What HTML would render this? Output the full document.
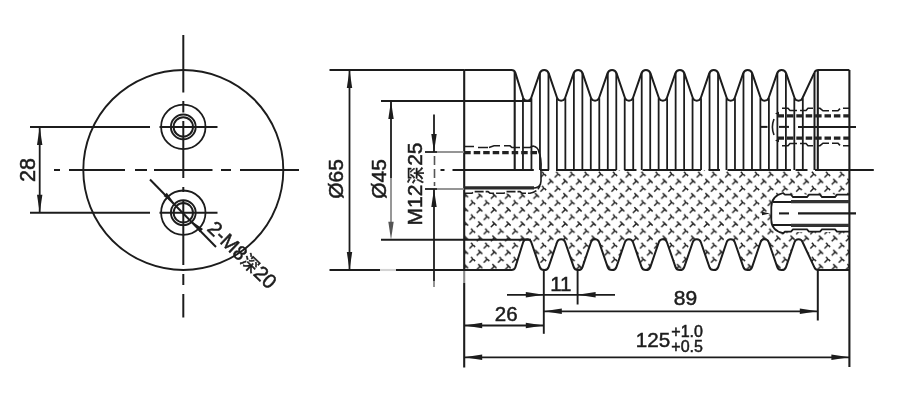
<!DOCTYPE html>
<html lang="zh"><head><meta charset="utf-8"><title>drawing</title>
<style>
html,body{margin:0;padding:0;background:#fff;}
body{width:900px;height:402px;overflow:hidden;}
svg{display:block;will-change:transform;filter:grayscale(1);}
svg text{font-family:"Liberation Sans","Noto Sans CJK SC",sans-serif;fill:#1c1c1c;stroke:#1c1c1c;stroke-width:0.5px;}
</style></head><body>
<svg width="900" height="402" viewBox="0 0 900 402" stroke="#1c1c1c" fill="none" stroke-linecap="butt">
<rect x="0" y="0" width="900" height="402" fill="#ffffff" stroke="none"/>
<circle cx="183.3" cy="170" r="100" fill="none" stroke-width="1.9"/>
<circle cx="183.3" cy="126.9" r="22.2" fill="none" stroke-width="1.8"/>
<circle cx="183.3" cy="126.9" r="12.4" fill="none" stroke-width="1.9"/>
<circle cx="183.3" cy="126.9" r="9.7" fill="none" stroke-width="1.9"/>
<line x1="30.00" y1="126.90" x2="150.00" y2="126.90" stroke-width="2.0" />
<line x1="159.50" y1="126.90" x2="217.50" y2="126.90" stroke-width="2.0" />
<circle cx="183.3" cy="212.7" r="22.2" fill="none" stroke-width="1.8"/>
<circle cx="183.3" cy="212.7" r="12.4" fill="none" stroke-width="1.9"/>
<circle cx="183.3" cy="212.7" r="9.7" fill="none" stroke-width="1.9"/>
<line x1="30.00" y1="212.70" x2="150.00" y2="212.70" stroke-width="2.0" />
<line x1="159.50" y1="212.70" x2="217.50" y2="212.70" stroke-width="2.0" />
<line x1="54.00" y1="170.00" x2="60.00" y2="170.00" stroke-width="2.0" />
<line x1="69.00" y1="170.00" x2="125.00" y2="170.00" stroke-width="2.0" />
<line x1="135.00" y1="170.00" x2="147.00" y2="170.00" stroke-width="2.0" />
<line x1="154.00" y1="170.00" x2="212.50" y2="170.00" stroke-width="2.0" />
<line x1="221.00" y1="170.00" x2="231.00" y2="170.00" stroke-width="2.0" />
<line x1="240.00" y1="170.00" x2="299.00" y2="170.00" stroke-width="2.0" />
<line x1="183.30" y1="35.00" x2="183.30" y2="92.50" stroke-width="2.0" />
<line x1="183.30" y1="101.00" x2="183.30" y2="112.50" stroke-width="2.0" />
<line x1="183.30" y1="121.00" x2="183.30" y2="178.00" stroke-width="2.0" />
<line x1="183.30" y1="187.00" x2="183.30" y2="192.00" stroke-width="2.0" />
<line x1="183.30" y1="201.00" x2="183.30" y2="265.00" stroke-width="2.0" />
<line x1="183.30" y1="274.00" x2="183.30" y2="285.00" stroke-width="2.0" />
<line x1="183.30" y1="294.00" x2="183.30" y2="317.50" stroke-width="2.0" />
<line x1="39.70" y1="126.90" x2="39.70" y2="212.70" stroke-width="1.8" />
<polygon points="39.70,126.90 42.40,144.90 37.00,144.90" fill="#1c1c1c" stroke="none"/>
<polygon points="39.70,212.70 37.00,194.70 42.40,194.70" fill="#1c1c1c" stroke="none"/>
<text transform="translate(34.5,170) rotate(-90)" text-anchor="middle" font-size="21.6">28</text>
<line x1="150.00" y1="179.50" x2="216.00" y2="247.00" stroke-width="2.0" />
<polygon points="174.40,203.60 163.58,196.03 166.83,192.78" fill="#1c1c1c" stroke="none"/>
<polygon points="192.20,221.40 203.02,228.97 199.77,232.22" fill="#1c1c1c" stroke="none"/>
<text transform="translate(206.2,229.8) rotate(44)" font-size="20.2">2-M8<tspan font-size="17.5" dx="0.4">深</tspan><tspan dx="0.4">20</tspan></text>
<defs><pattern id="h" width="14.2" height="14.2" patternUnits="userSpaceOnUse" patternTransform="translate(4.5,3.5)">
<path d="M0,0 L14.2,14.2" stroke="#1c1c1c" stroke-width="1.45" stroke-dasharray="5.8 4.24" stroke-dashoffset="2.9" fill="none"/>
<path d="M14.2,0 L0,14.2" stroke="#1c1c1c" stroke-width="1.45" stroke-dasharray="5.4 4.64" stroke-dashoffset="0.4" fill="none"/>
</pattern></defs>
<path d="M464.20,270.00 L511.50,270.00 Q514.20,270.00 515.30,267.40 L523.13,242.22 A4.3,4.3 0 0 1 531.27,242.22 L539.75,266.81 A4.7,4.7 0 0 0 548.65,266.81 L557.05,242.22 A4.3,4.3 0 0 1 565.19,242.22 L573.67,266.81 A4.7,4.7 0 0 0 582.57,266.81 L590.97,242.22 A4.3,4.3 0 0 1 599.11,242.22 L607.59,266.81 A4.7,4.7 0 0 0 616.49,266.81 L624.89,242.22 A4.3,4.3 0 0 1 633.03,242.22 L641.51,266.81 A4.7,4.7 0 0 0 650.41,266.81 L658.81,242.22 A4.3,4.3 0 0 1 666.95,242.22 L675.43,266.81 A4.7,4.7 0 0 0 684.33,266.81 L692.73,242.22 A4.3,4.3 0 0 1 700.87,242.22 L709.35,266.81 A4.7,4.7 0 0 0 718.25,266.81 L726.65,242.22 A4.3,4.3 0 0 1 734.79,242.22 L743.27,266.81 A4.7,4.7 0 0 0 752.17,266.81 L760.57,242.22 A4.3,4.3 0 0 1 768.71,242.22 L777.19,266.81 A4.7,4.7 0 0 0 786.09,266.81 L794.49,242.22 A4.3,4.3 0 0 1 802.63,242.22 L814.40,267.40 Q815.50,270.00 818.30,270.00 L849.40,270.00 L849.40,170 L464.20,170 Z" fill="url(#h)" stroke="none"/>
<path d="M464.2,170 H541 V183 Q541,193.5 530,193.5 H464.2 Z" fill="#fff" stroke="none"/>
<path d="M849.4,194.5 H781 Q771,194.5 771,204 V223 Q771,232 781,232 H849.4 Z" fill="#fff" stroke="none"/>
<path d="M464.20,70.00 L511.50,70.00 Q514.20,70.00 515.30,72.60 L523.13,97.78 A4.3,4.3 0 0 0 531.27,97.78 L539.75,73.19 A4.7,4.7 0 0 1 548.65,73.19 L557.05,97.78 A4.3,4.3 0 0 0 565.19,97.78 L573.67,73.19 A4.7,4.7 0 0 1 582.57,73.19 L590.97,97.78 A4.3,4.3 0 0 0 599.11,97.78 L607.59,73.19 A4.7,4.7 0 0 1 616.49,73.19 L624.89,97.78 A4.3,4.3 0 0 0 633.03,97.78 L641.51,73.19 A4.7,4.7 0 0 1 650.41,73.19 L658.81,97.78 A4.3,4.3 0 0 0 666.95,97.78 L675.43,73.19 A4.7,4.7 0 0 1 684.33,73.19 L692.73,97.78 A4.3,4.3 0 0 0 700.87,97.78 L709.35,73.19 A4.7,4.7 0 0 1 718.25,73.19 L726.65,97.78 A4.3,4.3 0 0 0 734.79,97.78 L743.27,73.19 A4.7,4.7 0 0 1 752.17,73.19 L760.57,97.78 A4.3,4.3 0 0 0 768.71,97.78 L777.19,73.19 A4.7,4.7 0 0 1 786.09,73.19 L794.49,97.78 A4.3,4.3 0 0 0 802.63,97.78 L814.40,72.60 Q815.50,70.00 818.30,70.00 L849.40,70.00" fill="none" stroke-width="2" stroke-linejoin="round"/>
<path d="M464.20,270.00 L511.50,270.00 Q514.20,270.00 515.30,267.40 L523.13,242.22 A4.3,4.3 0 0 1 531.27,242.22 L539.75,266.81 A4.7,4.7 0 0 0 548.65,266.81 L557.05,242.22 A4.3,4.3 0 0 1 565.19,242.22 L573.67,266.81 A4.7,4.7 0 0 0 582.57,266.81 L590.97,242.22 A4.3,4.3 0 0 1 599.11,242.22 L607.59,266.81 A4.7,4.7 0 0 0 616.49,266.81 L624.89,242.22 A4.3,4.3 0 0 1 633.03,242.22 L641.51,266.81 A4.7,4.7 0 0 0 650.41,266.81 L658.81,242.22 A4.3,4.3 0 0 1 666.95,242.22 L675.43,266.81 A4.7,4.7 0 0 0 684.33,266.81 L692.73,242.22 A4.3,4.3 0 0 1 700.87,242.22 L709.35,266.81 A4.7,4.7 0 0 0 718.25,266.81 L726.65,242.22 A4.3,4.3 0 0 1 734.79,242.22 L743.27,266.81 A4.7,4.7 0 0 0 752.17,266.81 L760.57,242.22 A4.3,4.3 0 0 1 768.71,242.22 L777.19,266.81 A4.7,4.7 0 0 0 786.09,266.81 L794.49,242.22 A4.3,4.3 0 0 1 802.63,242.22 L814.40,267.40 Q815.50,270.00 818.30,270.00 L849.40,270.00" fill="none" stroke-width="2" stroke-linejoin="round"/>
<line x1="464.20" y1="70.00" x2="464.20" y2="271.00" stroke-width="2.1" />
<line x1="464.20" y1="271.00" x2="464.20" y2="283.00" stroke-width="2.1" stroke="#8a8a8a"/>
<line x1="464.20" y1="283.00" x2="464.20" y2="367.50" stroke-width="2.1" />
<line x1="849.40" y1="70.00" x2="849.40" y2="367.00" stroke-width="2.1" />
<line x1="514.70" y1="72.00" x2="514.70" y2="170.00" stroke-width="2.1" />
<line x1="817.80" y1="70.00" x2="817.80" y2="170.00" stroke-width="2.1" />
<line x1="814.50" y1="73.00" x2="814.50" y2="170.00" stroke-width="2.0" />
<line x1="539.95" y1="73.00" x2="539.95" y2="170.00" stroke-width="1.8" />
<line x1="548.45" y1="73.00" x2="548.45" y2="170.00" stroke-width="1.8" />
<line x1="573.87" y1="73.00" x2="573.87" y2="170.00" stroke-width="1.8" />
<line x1="582.37" y1="73.00" x2="582.37" y2="170.00" stroke-width="1.8" />
<line x1="607.79" y1="73.00" x2="607.79" y2="170.00" stroke-width="1.8" />
<line x1="616.29" y1="73.00" x2="616.29" y2="170.00" stroke-width="1.8" />
<line x1="641.71" y1="73.00" x2="641.71" y2="170.00" stroke-width="1.8" />
<line x1="650.21" y1="73.00" x2="650.21" y2="170.00" stroke-width="1.8" />
<line x1="675.63" y1="73.00" x2="675.63" y2="170.00" stroke-width="1.8" />
<line x1="684.13" y1="73.00" x2="684.13" y2="170.00" stroke-width="1.8" />
<line x1="709.55" y1="73.00" x2="709.55" y2="170.00" stroke-width="1.8" />
<line x1="718.05" y1="73.00" x2="718.05" y2="170.00" stroke-width="1.8" />
<line x1="743.47" y1="73.00" x2="743.47" y2="170.00" stroke-width="1.8" />
<line x1="751.97" y1="73.00" x2="751.97" y2="170.00" stroke-width="1.8" />
<line x1="777.39" y1="73.00" x2="777.39" y2="170.00" stroke-width="1.8" />
<line x1="785.89" y1="73.00" x2="785.89" y2="170.00" stroke-width="1.8" />
<line x1="522.95" y1="98.20" x2="522.95" y2="170.00" stroke-width="1.8" />
<line x1="531.45" y1="98.20" x2="531.45" y2="170.00" stroke-width="1.8" />
<line x1="556.87" y1="98.20" x2="556.87" y2="170.00" stroke-width="1.8" />
<line x1="565.37" y1="98.20" x2="565.37" y2="170.00" stroke-width="1.8" />
<line x1="590.79" y1="98.20" x2="590.79" y2="170.00" stroke-width="1.8" />
<line x1="599.29" y1="98.20" x2="599.29" y2="170.00" stroke-width="1.8" />
<line x1="624.71" y1="98.20" x2="624.71" y2="170.00" stroke-width="1.8" />
<line x1="633.21" y1="98.20" x2="633.21" y2="170.00" stroke-width="1.8" />
<line x1="658.63" y1="98.20" x2="658.63" y2="170.00" stroke-width="1.8" />
<line x1="667.13" y1="98.20" x2="667.13" y2="170.00" stroke-width="1.8" />
<line x1="692.55" y1="98.20" x2="692.55" y2="170.00" stroke-width="1.8" />
<line x1="701.05" y1="98.20" x2="701.05" y2="170.00" stroke-width="1.8" />
<line x1="726.47" y1="98.20" x2="726.47" y2="170.00" stroke-width="1.8" />
<line x1="734.97" y1="98.20" x2="734.97" y2="170.00" stroke-width="1.8" />
<line x1="760.39" y1="98.20" x2="760.39" y2="170.00" stroke-width="1.8" />
<line x1="768.89" y1="98.20" x2="768.89" y2="170.00" stroke-width="1.8" />
<line x1="794.31" y1="98.20" x2="794.31" y2="170.00" stroke-width="1.8" />
<line x1="802.81" y1="98.20" x2="802.81" y2="170.00" stroke-width="1.8" />
<line x1="440.50" y1="170.00" x2="444.50" y2="170.00" stroke-width="2.0" />
<line x1="452.50" y1="170.00" x2="533.80" y2="170.00" stroke-width="2.0" />
<line x1="540.00" y1="170.00" x2="549.00" y2="170.00" stroke-width="2.0" />
<line x1="556.00" y1="170.00" x2="616.30" y2="170.00" stroke-width="2.0" />
<line x1="624.50" y1="170.00" x2="636.50" y2="170.00" stroke-width="2.0" />
<line x1="642.50" y1="170.00" x2="701.00" y2="170.00" stroke-width="2.0" />
<line x1="708.50" y1="170.00" x2="720.00" y2="170.00" stroke-width="2.0" />
<line x1="727.50" y1="170.00" x2="791.00" y2="170.00" stroke-width="2.0" />
<line x1="795.50" y1="170.00" x2="807.50" y2="170.00" stroke-width="2.0" />
<line x1="815.00" y1="170.00" x2="873.80" y2="170.00" stroke-width="2.0" />
<line x1="329.50" y1="70.00" x2="464.20" y2="70.00" stroke-width="2.1" />
<line x1="329.50" y1="270.00" x2="380.00" y2="270.00" stroke-width="2.1" />
<line x1="380.00" y1="270.00" x2="396.00" y2="270.00" stroke-width="2.1" stroke="#d4d4d4"/>
<line x1="396.00" y1="270.00" x2="464.20" y2="270.00" stroke-width="2.1" />
<line x1="381.00" y1="101.00" x2="531.00" y2="101.00" stroke-width="2.1" />
<line x1="381.00" y1="239.70" x2="531.00" y2="239.70" stroke-width="2.1" />
<line x1="349.50" y1="70.00" x2="349.50" y2="270.00" stroke-width="1.8" />
<polygon points="349.50,70.00 352.20,88.00 346.80,88.00" fill="#1c1c1c" stroke="none"/>
<polygon points="349.50,270.00 346.80,252.00 352.20,252.00" fill="#1c1c1c" stroke="none"/>
<line x1="391.00" y1="101.00" x2="391.00" y2="178.00" stroke-width="1.8" />
<line x1="391.00" y1="178.00" x2="391.00" y2="230.00" stroke-width="1.8" stroke="#8c8c8c"/>
<polygon points="391.00,101.00 393.70,119.00 388.30,119.00" fill="#1c1c1c" stroke="none"/>
<polygon points="391.00,239.70 388.30,221.70 393.70,221.70" fill="#555" stroke="none"/>
<text transform="translate(343.4,179) rotate(-90)" text-anchor="middle" font-size="21">Ø65</text>
<text transform="translate(386.4,179) rotate(-90)" text-anchor="middle" font-size="21">Ø45</text>
<line x1="434.00" y1="114.50" x2="434.00" y2="152.00" stroke-width="1.8" />
<line x1="434.00" y1="189.00" x2="434.00" y2="281.00" stroke-width="1.8" />
<line x1="434.00" y1="281.00" x2="434.00" y2="287.00" stroke-width="1.8" stroke="#8a8a8a"/>
<line x1="434.50" y1="156.00" x2="434.50" y2="186.00" stroke-width="1.6" stroke="#555" stroke-dasharray="9 4"/>
<polygon points="434.00,152.00 431.30,134.00 436.70,134.00" fill="#1c1c1c" stroke="none"/>
<polygon points="434.00,189.00 436.70,207.00 431.30,207.00" fill="#1c1c1c" stroke="none"/>
<line x1="425.00" y1="152.00" x2="437.00" y2="152.00" stroke-width="1.8" />
<line x1="437.00" y1="152.00" x2="464.20" y2="152.00" stroke-width="1.8" stroke="#8a8a8a"/>
<line x1="425.00" y1="189.00" x2="437.00" y2="189.00" stroke-width="1.8" />
<line x1="437.00" y1="189.00" x2="464.20" y2="189.00" stroke-width="1.8" stroke="#8a8a8a"/>
<text transform="translate(421.8,184) rotate(-90)" text-anchor="middle" font-size="21">M12<tspan font-size="17.5" dx="0.7">深</tspan><tspan dx="0.7">25</tspan></text>
<line x1="464.20" y1="152.70" x2="537.00" y2="152.70" stroke-width="3.2" stroke-dasharray="6.5 3" stroke="#222"/>
<path d="M464.2,146.5 H474 M478,147.5 H488 M489,147.5 L494,145.8 H500 M504,145.8 H510 L512,147.5 H520 M523,147.5 H530 L533,146 Q538,147 539,152" fill="none" stroke-width="1.6"/>
<path d="M538.5,151 Q541.8,158 541,170" fill="none" stroke-width="1.6"/>
<path d="M541,170 V181 Q541,188.3 532,188.3 H464.2" fill="none" stroke-width="1.6"/>
<line x1="464.20" y1="187.80" x2="534.00" y2="187.80" stroke-width="3.2" stroke="#2a2a2a"/>
<path d="M464.2,193.2 H472 L474,191.6 H488 L490,193.2 H504 L506,191.6 H520 L522,193.2 H530 Q537,192 540,186" fill="none" stroke-width="1.6" stroke-dasharray="9 2"/>
<line x1="777.50" y1="115.90" x2="849.40" y2="115.90" stroke-width="3.2" stroke-dasharray="6.5 2.9" stroke="#222"/>
<line x1="777.50" y1="138.20" x2="849.40" y2="138.20" stroke-width="3.2" stroke-dasharray="6.5 2.9" stroke="#222"/>
<path d="M782,108.3 H788 L790,110.5 H797 M800,110.5 H806 L808,108.3 H813 M817,108.3 H820 L823,110.8 H829 M832,110.8 H838 L840,108.6 M843,108.3 H849.4" fill="none" stroke-width="1.6"/>
<path d="M782,145.7 H788 L790,143.5 H797 M800,143.5 H806 L808,145.7 H813 M817,145.7 H820 L823,143.2 H829 M832,143.2 H838 L840,145.4 M843,145.7 H849.4" fill="none" stroke-width="1.6"/>
<path d="M774,119 Q770.8,127 774,135" fill="none" stroke-width="1.6"/>
<polygon points="775.00,113.50 779.00,111.70 779.00,115.30" fill="#1c1c1c" stroke="none"/>
<polygon points="775.00,140.50 779.00,138.70 779.00,142.30" fill="#1c1c1c" stroke="none"/>
<line x1="761.00" y1="126.90" x2="767.50" y2="126.90" stroke-width="2.0" />
<line x1="779.00" y1="126.90" x2="789.00" y2="126.90" stroke-width="2.0" />
<line x1="798.00" y1="126.90" x2="856.00" y2="126.90" stroke-width="2.0" />
<path d="M849.4,194.6 H837 L835,197 H822 L820,194.6 H809 L807,197 H793 L791,194.6 H785 L783,193 Q771.3,196 771.3,207 V220 Q771.3,230.3 783,233.2 L785,231.7 H791 L793,229.4 H807 L809,231.7 H820 L822,229.4 H835 L837,231.7 H849.4" fill="none" stroke-width="1.8"/>
<line x1="773.00" y1="202.00" x2="849.40" y2="202.00" stroke-width="1.8" />
<line x1="773.00" y1="225.00" x2="849.40" y2="225.00" stroke-width="1.8" />
<line x1="791.00" y1="201.60" x2="849.40" y2="201.60" stroke-width="3.2" stroke="#333"/>
<line x1="791.00" y1="225.40" x2="849.40" y2="225.40" stroke-width="3.2" stroke="#333"/>
<line x1="779.00" y1="213.40" x2="789.00" y2="213.40" stroke-width="2.1" />
<line x1="798.00" y1="213.40" x2="856.00" y2="213.40" stroke-width="2.1" />
<polygon points="770.00,213.50 762.00,215.30 762.00,211.70" fill="#1c1c1c" stroke="none"/>
<line x1="543.80" y1="270.00" x2="543.80" y2="333.80" stroke-width="1.9" />
<line x1="577.60" y1="270.00" x2="577.60" y2="304.50" stroke-width="1.9" />
<line x1="817.80" y1="270.00" x2="817.80" y2="320.50" stroke-width="2.0" />
<line x1="507.00" y1="294.80" x2="615.00" y2="294.80" stroke-width="1.8" />
<polygon points="543.80,294.80 525.80,297.50 525.80,292.10" fill="#1c1c1c" stroke="none"/>
<polygon points="577.60,294.80 595.60,292.10 595.60,297.50" fill="#1c1c1c" stroke="none"/>
<line x1="543.80" y1="311.30" x2="817.80" y2="311.30" stroke-width="1.8" />
<polygon points="543.80,311.30 561.80,308.60 561.80,314.00" fill="#1c1c1c" stroke="none"/>
<polygon points="817.80,311.30 799.80,314.00 799.80,308.60" fill="#1c1c1c" stroke="none"/>
<line x1="464.20" y1="325.50" x2="543.80" y2="325.50" stroke-width="1.8" />
<polygon points="464.20,325.50 482.20,322.80 482.20,328.20" fill="#1c1c1c" stroke="none"/>
<polygon points="543.80,325.50 525.80,328.20 525.80,322.80" fill="#1c1c1c" stroke="none"/>
<line x1="464.20" y1="357.30" x2="849.40" y2="357.30" stroke-width="1.8" />
<polygon points="464.20,357.30 482.20,354.60 482.20,360.00" fill="#1c1c1c" stroke="none"/>
<polygon points="849.40,357.30 831.40,360.00 831.40,354.60" fill="#1c1c1c" stroke="none"/>
<text x="560.8" y="291" text-anchor="middle" font-size="20.5">11</text>
<text x="685.4" y="305.4" text-anchor="middle" font-size="21">89</text>
<text x="506.2" y="320.9" text-anchor="middle" font-size="20.5">26</text>
<text x="635.8" y="347" font-size="20.6">125</text>
<text x="671.3" y="336.8" font-size="16">+1.0</text>
<text x="671.3" y="351.8" font-size="16">+0.5</text>
</svg>
</body></html>
